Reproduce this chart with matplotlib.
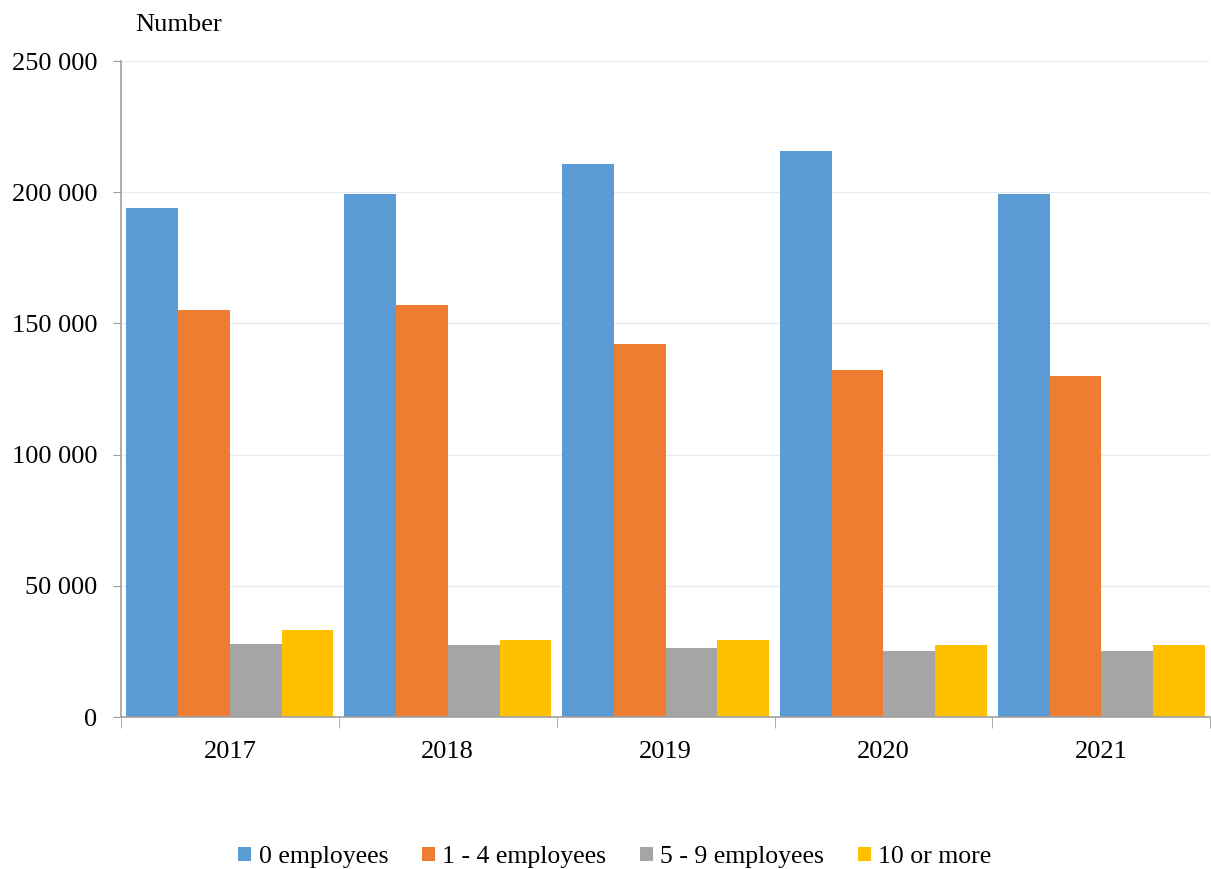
import matplotlib
matplotlib.use("Agg")
import matplotlib.pyplot as plt
import numpy as np

years = ["2017", "2018", "2019", "2020", "2021"]
series_names = ["0 employees", "1 - 4 employees", "5 - 9 employees", "10 or more"]
emp0 = [194000, 199300, 210700, 215700, 199300]
emp1_4 = [155100, 157000, 142100, 132200, 130000]
emp5_9 = [27800, 27400, 26300, 25200, 25200]
emp10 = [33200, 29300, 29300, 27400, 27400]
colors = ["#5B9BD5", "#ED7D31", "#A5A5A5", "#FFC000"]

plt.rcParams['font.family'] = ['Liberation Serif', 'DejaVu Serif']

fig = plt.figure(figsize=(12.11, 8.69), dpi=100)
ax = fig.add_axes([0.0999, 0.1749, 0.8995, 0.7549])

x = np.arange(len(years))
bw = 0.2375
for i, (vals, name, c) in enumerate(zip([emp0, emp1_4, emp5_9, emp10], series_names, colors)):
    ax.bar(x + (i - 1.5) * bw, vals, width=bw, color=c, label=name, zorder=2)

ax.set_xlim(-0.5, len(years) - 0.5)
ax.set_ylim(0, 250000)
yt = np.arange(0, 250001, 50000)
ax.set_yticks(yt)
ax.set_yticklabels([f"{v:,}".replace(",", " ") for v in yt], fontsize=19)
ax.yaxis.grid(True, color="#E3EBF5", linewidth=1, zorder=0)
ax.set_axisbelow(True)

ax.set_xticks(x)
ax.set_xticklabels(years, fontsize=19)
ax.tick_params(axis='x', which='major', length=0, pad=17)
ax.set_xticks(np.arange(-0.5, len(years), 1), minor=True)
ax.tick_params(axis='x', which='minor', length=8, color="#A0A0A0", direction='out')
ax.tick_params(axis='y', length=6, color="#A0A0A0", pad=11)

for s in ["top", "right"]:
    ax.spines[s].set_visible(False)
for s in ["left", "bottom"]:
    ax.spines[s].set_color("#A0A0A0")
    ax.spines[s].set_linewidth(1.2)

fig.text(135 / 1211, 1 - 25 / 869, "Number", fontsize=19, ha="left", va="center")

fig.legend(loc="center", bbox_to_anchor=(615 / 1211, 1 - 857 / 869), ncol=4, frameon=False,
           fontsize=18.5, handlelength=0.5, handleheight=0.5, handletextpad=0.3, columnspacing=1.3)

fig.savefig("out.png", dpi=100)
